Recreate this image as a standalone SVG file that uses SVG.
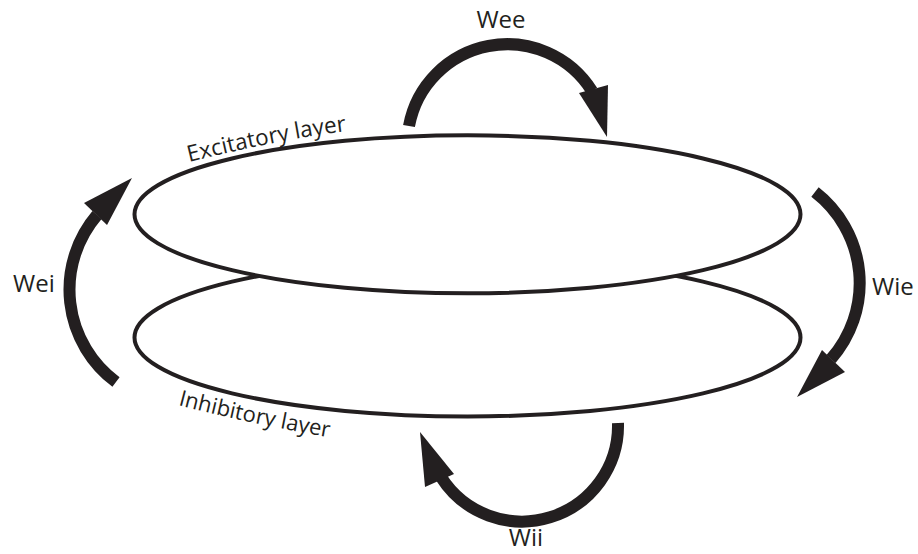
<svg xmlns="http://www.w3.org/2000/svg" width="918" height="554" viewBox="0 0 918 554">
<style>
.layer{fill:#fff;stroke:#231f20;stroke-width:4}
.arc{fill:none;stroke:#231f20;stroke-width:12;stroke-linecap:butt}
.head{fill:#231f20;stroke:none}
.lbl{font-family:"Open Sans","Liberation Sans",sans-serif;font-size:24px;fill:#231f20}
.lay{font-family:"Open Sans","Liberation Sans",sans-serif;font-size:22px;fill:#231f20}
</style>
<defs>
<path id="pathExc" d="M189,162 Q294,136 365,129"/>
<path id="pathInh" d="M178,405 Q250,424 345,440"/>
</defs>
<rect width="918" height="554" fill="#fff"/>
<g id="inhibitory">
<ellipse class="layer" cx="467.5" cy="337.5" rx="333" ry="79"/>
<text class="lay"><textPath href="#pathInh">Inhibitory layer</textPath></text>
</g>
<g id="excitatory">
<ellipse class="layer" cx="467.5" cy="214.3" rx="333" ry="79"/>
<text class="lay" style="font-size:22.5px"><textPath href="#pathExc">Excitatory layer</textPath></text>
</g>
<g id="connectors">
<g id="wee">
<path class="arc" d="M409,126 A100,100 0 0 1 592,91"/>
<polygon class="head" points="579,93 608,85 607,137"/>
<text class="lbl" x="501" y="28" text-anchor="middle">Wee</text>
</g>
<g id="wii">
<path class="arc" d="M618,423 A96,96 0 0 1 441,477"/>
<polygon class="head" points="425,487 454,474 420,432"/>
<text class="lbl" x="526" y="546" text-anchor="middle">Wii</text>
</g>
<g id="wei">
<path class="arc" d="M116,382 A115,115 0 0 1 97,215"/>
<polygon class="head" points="84,203 107,225 132,178"/>
<text class="lbl" x="13" y="292">Wei</text>
</g>
<g id="wie">
<path class="arc" d="M815,192 A115,115 0 0 1 831,359"/>
<polygon class="head" points="822,350 845,372 797,397"/>
<text class="lbl" x="872" y="295">Wie</text>
</g>
</g>
</svg>
